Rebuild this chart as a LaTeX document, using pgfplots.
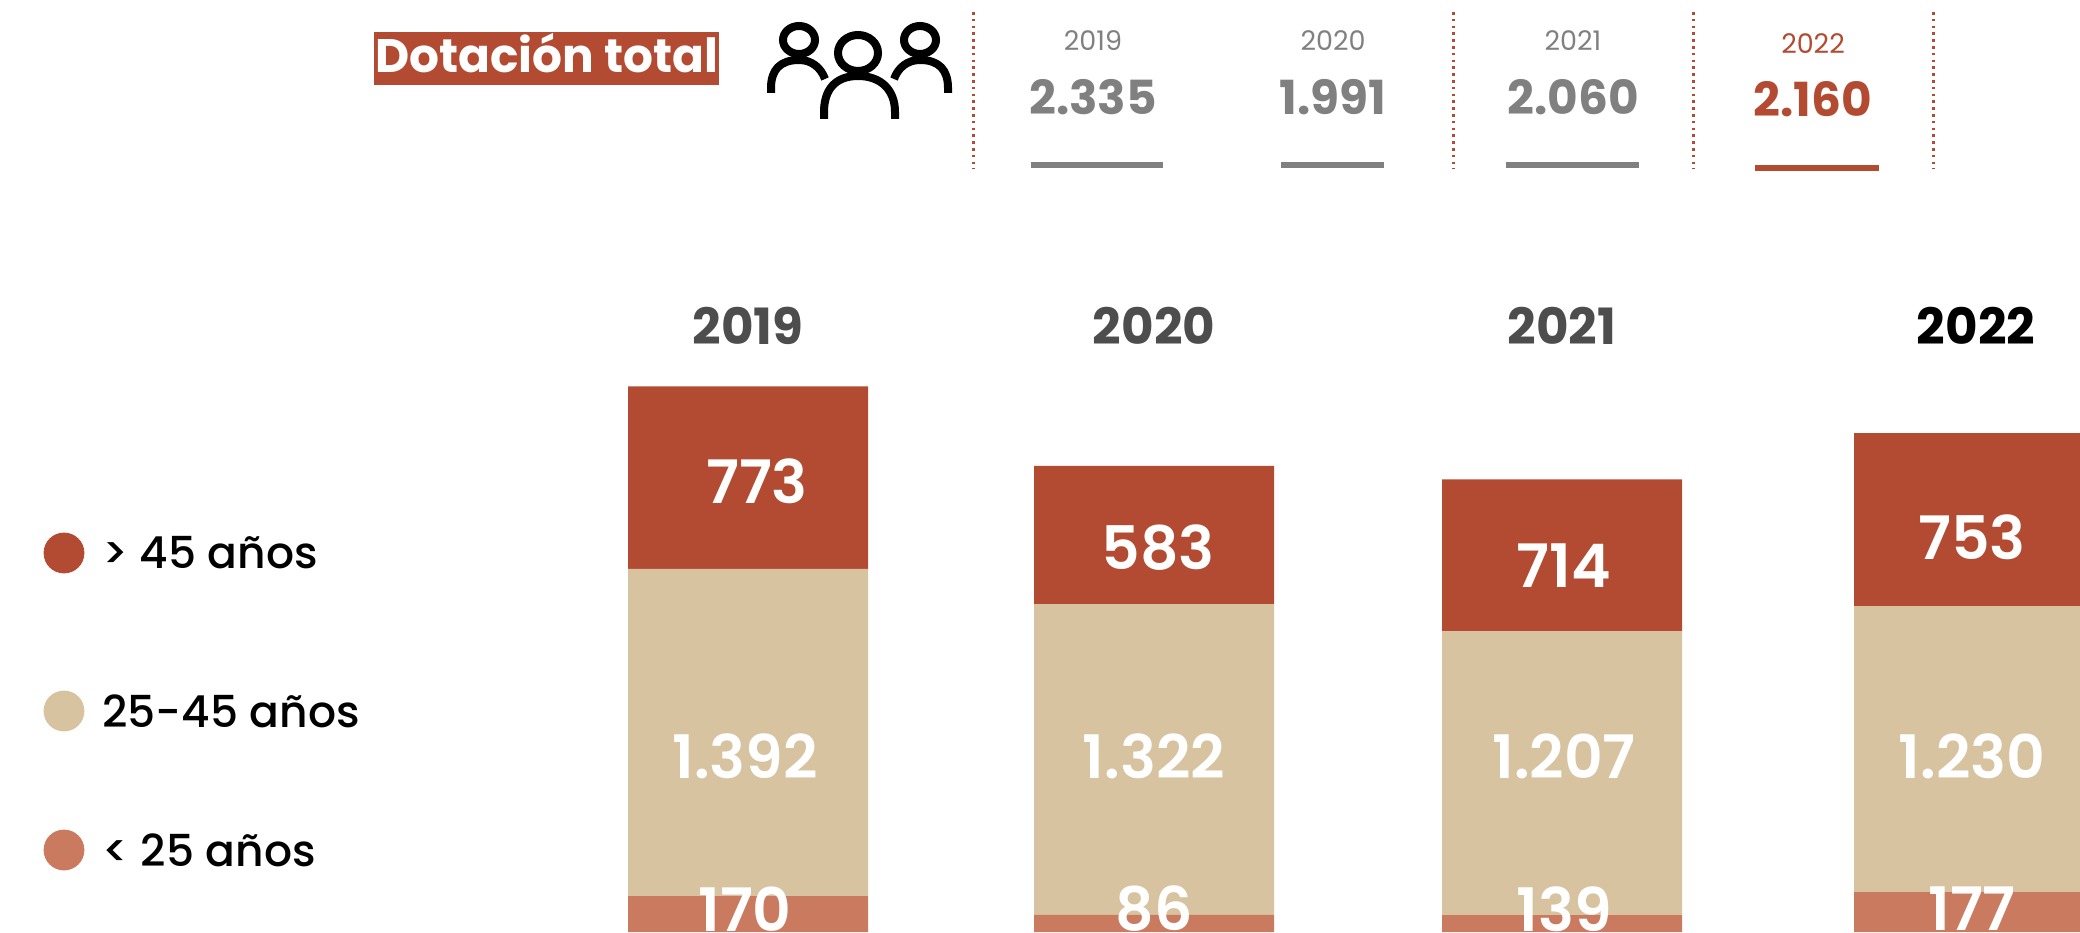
\documentclass[border=0pt]{standalone}
\usepackage{fontspec}
\setmainfont{Poppins}
\newfontfamily\pmed{Poppins Medium}
\newfontfamily\psemi{Poppins SemiBold}
\usepackage{pgfplots}
\pgfplotsset{compat=1.18}
\usepackage{pgfplotstable}
\definecolor{rojo}{HTML}{B34B32}
\definecolor{tan}{HTML}{D8C3A0}
\definecolor{salmon}{HTML}{C97A5F}
\definecolor{gris}{HTML}{808080}
\definecolor{oscuro}{HTML}{4D4D4D}
% Printed values (columns p*) and segment heights as actually drawn in the
% reference (columns d*). The source's bars are not
% exactly to scale with their printed labels, most of all in 2021.
\pgfplotstableread{
x    pmenor pmedio pmayor dmenor dmedio dmayor
748  170    1392   773    170    1392   777
1154 86     1322   583    90     1322   588
1562 139    1207   714    89     1207   647
1974 177    1230   753    187    1217   736
}\datos
\pgfplotsset{base/.style={at={(0,0)},anchor=south west,scale only axis,width=1040pt,height=466pt,
  hide axis,xmin=0,xmax=2080,clip=true}}
\begin{document}
\begin{tikzpicture}
\useasboundingbox (0,0) rectangle (1040pt,466pt);
\begin{axis}[base,ybar stacked,bar width=120pt,ymin=17,ymax=3983]
\addplot[fill=salmon,draw=none] table[x=x,y=dmenor]{\datos};
\addplot[fill=tan,draw=none] table[x=x,y=dmedio]{\datos};
\addplot[fill=rojo,draw=none] table[x=x,y=dmayor]{\datos};
\end{axis}
\begin{axis}[base,ymin=0,ymax=932]
\addplot[only marks,mark=*,mark size=10pt,color=rojo,mark options={draw=none}] coordinates {(64,379)};
\addplot[only marks,mark=*,mark size=10pt,color=tan,mark options={draw=none}] coordinates {(64,221)};
\addplot[only marks,mark=*,mark size=10pt,color=salmon,mark options={draw=none}] coordinates {(64,82)};
\end{axis}
\begin{scope}[x=0.5pt,y=-0.5pt,shift={(0,466pt)}]
\clip (0,0) rectangle (2080,932);
% title
\fill[rojo] (374,32) rectangle (719,85);
\node[text=white,font=\fontsize{23.5}{24}\selectfont\bfseries,inner sep=0] at (546.5,53.5) {Dotación total};
% icon
\begin{scope}[line width=4pt,draw=black]
\draw (799,40) ellipse [x radius=16,y radius=14];
\draw (771,93) -- (771,88) .. controls (771,70) and (780,60) .. (799,60) .. controls (812,60) and (821,68) .. (825,79);
\draw (920,40) ellipse [x radius=16,y radius=14];
\draw (948,93) -- (948,88) .. controls (948,70) and (939,60) .. (920,60) .. controls (907,60) and (898,68) .. (894,79);
\draw[fill=white] (858,53) ellipse [x radius=20,y radius=18];
\draw (824,119) -- (824,112) .. controls (824,90) and (835,76) .. (858,76) .. controls (881,76) and (895,90) .. (895,112) -- (895,119);
\end{scope}
% dotted separators
\foreach \px in {973,1453,1693,1933}
  \draw[rojo,line width=1.5pt,dash pattern=on 1.3pt off 2.1pt] (\px,12) -- (\px,169);
% header
\foreach \cx/\yy/\vv/\lft/\rgt in {1093/2019/2.335/1031/1163,1333/2020/1.991/1281/1384,1573/2021/2.060/1506/1639}{
  \node[text=gris,font=\fontsize{13.5}{14}\selectfont,inner sep=0] at (\cx,41) {\yy};
  \node[text=gris,font=\fontsize{23.5}{24}\selectfont\bfseries,inner sep=0] at (\cx,97) {\vv};
  \fill[gris] (\lft,162) rectangle (\rgt,168);
}
\node[text=rojo,font=\fontsize{13.5}{14}\selectfont,inner sep=0] at (1813,44) {2022};
\node[text=rojo,font=\fontsize{23.5}{24}\selectfont\bfseries,inner sep=0] at (1813,99) {2.160};
\fill[rojo] (1755,165) rectangle (1879,171);
% year heads
\foreach \cx/\yy/\colr in {748/2019/oscuro,1154/2020/oscuro,1562/2021/oscuro,1976/2022/black}
  \node[text=\colr,font=\fontsize{25}{26}\selectfont\bfseries,inner sep=0] at (\cx,326) {\yy};
% legend
\foreach \py/\lab in {553/{> 45 años},711/{25-45 años},850/{< 25 años}}
  \node[anchor=west,font=\fontsize{22}{23}\selectfont\pmed,inner sep=0] at (102,\py) {\lab};
% value labels
\foreach \cx/\py/\lab in {757/481/773,1158/548/583,1564/566/714,1972/537/753,
  745/756/1.392,1154/756/1.322,1564/756/1.207,1972/756/1.230,
  745/909/170,1154/909/86,1564/909/139,1972/909/177}
  \node[text=white,font=\fontsize{30}{31}\selectfont\psemi,inner sep=0] at (\cx,\py) {\lab};
\end{scope}
\end{tikzpicture}
\end{document}
